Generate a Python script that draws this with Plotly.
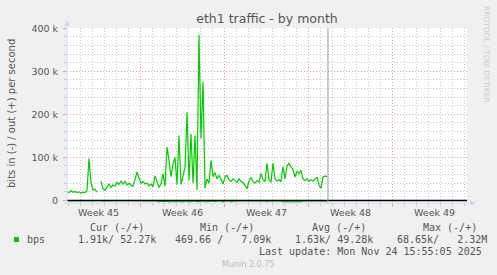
import plotly.graph_objects as go
import pandas as pd

# ---------------- data ----------------
series_start = "2025-11-02 22:00"
series_step = "4h"
# out (+) bits per second, in thousands (None = no data)
out_k = [21, 18, 23, 19, 21, 18, 20, 17, 19, 18,
         22, 97, 42, 24, 26, 19, None, 45, 27, 24,
         30, 38, 30, 36, 33, 42, 37, 45, 38, 44,
         36, 40, 36, 33, 48, 66, 52, 40, 44, 38,
         40, 34, 38, 32, 57, 44, 30, 38, 62, 33,
         124, 93, 55, 85, 100, 37, 151, 37, 60, 76,
         205, 47, 155, 40, 151, 25, 384, 144, 275, 28,
         50, 40, 93, 55, 65, 50, 58, 50, 38, 55,
         58, 48, 44, 50, 46, 42, 50, 44, 42, 35,
         27, 45, 53, 44, 40, 46, 42, 62, 48, 44,
         86, 48, 42, 87, 50, 45, 48, 44, 78, 50,
         80, 86, 77, 72, 54, 68, 62, 70, 50, 46,
         50, 44, 48, 45, 50, 54, 35, 28, 54, 57,
         55]
# in (-) bits per second, in thousands (drawn negative)
in_k = [0.7, 0.6, 0.8, 0.7, 0.6, 0.7, 0.8, 0.6, 0.7, 0.6,
        0.9, 1.2, 0.8, 0.7, 0.6, 0.7, None, 0.9, 0.7, 0.8,
        0.7, 0.9, 0.8, 0.7, 0.8, 0.9, 0.7, 0.8, 0.9, 0.8,
        0.7, 0.8, 0.9, 0.7, 0.8, 1.0, 0.9, 0.8, 0.7, 0.9,
        0.8, 0.7, 0.9, 0.8, 1.0, 1.1, 3.2, 1.0, 3.5, 3.0,
        1.2, 3.8, 3.4, 1.1, 3.6, 3.2, 1.0, 3.9, 3.5, 3.1,
        1.2, 3.3, 3.7, 1.1, 1.0, 3.4, 3.0, 1.2, 1.0, 3.6,
        3.2, 1.1, 1.0, 0.9, 3.3, 1.0, 0.9, 1.1, 3.2, 1.0,
        0.9, 1.0, 3.1, 1.0, 0.8, 0.9, 0.8, 0.7, 0.8, 0.9,
        0.8, 0.7, 0.8, 0.9, 0.8, 0.7, 0.8, 0.9, 0.8, 0.7,
        3.2, 0.8, 0.9, 0.8, 0.7, 0.8, 0.9, 0.8, 3.5, 3.6,
        3.4, 3.7, 3.5, 3.3, 3.6, 3.4, 3.5, 3.3, 0.9, 0.8,
        0.7, 0.8, 0.9, 0.8, 0.7, 0.8, 0.9, 0.8, 0.7, 0.8,
        0.9]

x_range = ["2025-11-02 22:00", "2025-12-06 06:00"]
week_starts = ["2025-11-02", "2025-11-09", "2025-11-16", "2025-11-23", "2025-11-30"]
week_labels = ["Week 45", "Week 46", "Week 47", "Week 48", "Week 49"]
ytick_vals = [0, 100000, 200000, 300000, 400000]
ytick_text = ["0", "100 k", "200 k", "300 k", "400 k"]
last_update = "2025-11-24 15:55:05"

title = "eth1 traffic - by month"
ylabel = "bits in (-) / out (+) per second"
legend_name = "bps"
headers = ["Cur (-/+)", "Min (-/+)", "Avg (-/+)", "Max (-/+)"]
stats = ["1.91k/ 52.27k", "469.66 /   7.09k", "1.63k/ 49.28k", "68.65k/   2.32M"]
update_text = "Last update: Mon Nov 24 15:55:05 2025"
footer = "Munin 2.0.75"
side_text = "RRDTOOL / TOBI OETIKER"

# ---------------- layout geometry ----------------
W, H = 497, 275
L, R, T, B = 67, 30, 28, 72
PW, PH = W - L - R, H - T - B


def px(x):
    return (x - L) / PW


def py(y):
    return (H - B - y) / PH


times = pd.date_range(series_start, periods=len(out_k), freq=series_step)
out_vals = [None if v is None else v * 1000 for v in out_k]
in_vals = [None if v is None else -v * 1000 for v in in_k]

GREEN = "#00CC00"
FONT = "#555555"
MGRID = "#EE9A9A"
GRID = "#C8C8C8"
AXIS = "#CFD6F8"
DOTS = "1px,2px"

fig = go.Figure()
fig.add_trace(go.Scatter(x=times, y=in_vals, mode="lines",
                         line=dict(color=GREEN, width=1.2),
                         connectgaps=False, showlegend=False, hoverinfo="skip"))
fig.add_trace(go.Scatter(x=times, y=out_vals, mode="lines",
                         line=dict(color=GREEN, width=1.2),
                         connectgaps=False, showlegend=False, hoverinfo="skip"))

shapes = []
# zero line
shapes.append(dict(type="line", xref="paper", yref="y", x0=0, x1=1, y0=0, y1=0,
                   line=dict(color="#000000", width=1.5), layer="above"))
# now marker
shapes.append(dict(type="line", xref="x", yref="paper", x0=last_update, x1=last_update,
                   y0=0, y1=1, line=dict(color="#999999", width=1), layer="above"))
# axis lines + arrows
shapes.append(dict(type="line", xref="paper", yref="paper", x0=px(67), x1=px(67),
                   y0=py(203), y1=py(23), line=dict(color=AXIS, width=1)))
shapes.append(dict(type="path", xref="paper", yref="paper",
                   path=f"M {px(64)},{py(26)} L {px(70)},{py(26)} L {px(67)},{py(20)} Z",
                   fillcolor=AXIS, line=dict(width=0)))
shapes.append(dict(type="line", xref="paper", yref="paper", x0=px(64), x1=px(471),
                   y0=py(203), y1=py(203), line=dict(color=AXIS, width=1)))
shapes.append(dict(type="path", xref="paper", yref="paper",
                   path=f"M {px(470)},{py(200)} L {px(470)},{py(206)} L {px(476)},{py(203)} Z",
                   fillcolor=AXIS, line=dict(width=0)))
# legend square
shapes.append(dict(type="rect", xref="paper", yref="paper", x0=px(14), x1=px(19),
                   y0=py(242), y1=py(237), fillcolor=GREEN, line=dict(width=0)))

ann = []
mono = dict(family="DejaVu Sans Mono", size=10, color=FONT)
for ws, lab in zip(week_starts, week_labels):
    mid = pd.Timestamp(ws) + pd.Timedelta(hours=84)
    ann.append(dict(x=mid, y=py(212.5), xref="x", yref="paper", text=lab, showarrow=False,
                    xanchor="center", yanchor="middle",
                    font=dict(family="DejaVu Sans", size=9.5, color=FONT)))
ann.append(dict(x=px(11), y=py(114), xref="paper", yref="paper", text=ylabel, textangle=-90,
                showarrow=False, xanchor="center", yanchor="middle",
                font=dict(family="DejaVu Sans", size=10, color=FONT)))
ann.append(dict(x=px(487), y=py(54), xref="paper", yref="paper", text=side_text, textangle=90,
                showarrow=False, xanchor="center", yanchor="middle",
                font=dict(family="DejaVu Sans", size=7.5, color="#CCCCCC")))
for hx, h in zip([90, 200, 311.7, 422.7], headers):
    ann.append(dict(x=px(hx - 2), y=py(227.7), xref="paper", yref="paper",
                    text=h.replace(" ", "\u00a0"), showarrow=False,
                    xanchor="left", yanchor="middle", font=mono))
ann.append(dict(x=px(26.7 - 2), y=py(239.3), xref="paper", yref="paper", text=legend_name,
                showarrow=False, xanchor="left", yanchor="middle", font=mono))
for sx, s in zip([78.3, 175, 295, 397.3], stats):
    ann.append(dict(x=px(sx - 2), y=py(239.3), xref="paper", yref="paper",
                    text=s.replace(" ", "\u00a0"), showarrow=False,
                    xanchor="left", yanchor="middle", font=mono))
ann.append(dict(x=px(484), y=py(251.7), xref="paper", yref="paper",
                text=update_text.replace(" ", "\u00a0"), showarrow=False,
                xanchor="right", yanchor="middle", font=mono))
ann.append(dict(x=px(248), y=py(264), xref="paper", yref="paper", text=footer,
                showarrow=False, xanchor="center", yanchor="middle",
                font=dict(family="DejaVu Sans", size=8, color="#BBBBBB")))

fig.update_layout(
    width=W, height=H,
    margin=dict(l=L, r=R, t=T, b=B, pad=0),
    paper_bgcolor="#F0F0F0", plot_bgcolor="#FFFFFF",
    showlegend=False,
    title=dict(text=title, x=0.5, xref="paper", xanchor="center",
               y=1 - 18.5 / H, yref="container", yanchor="middle",
               font=dict(family="DejaVu Sans", size=12.5, color=FONT)),
    xaxis=dict(type="date", range=x_range, tickvals=week_starts, showticklabels=False,
               showgrid=True, gridcolor=MGRID, griddash=DOTS, gridwidth=1,
               ticks="outside", ticklen=3, tickcolor=MGRID,
               showline=False, zeroline=False,
               minor=dict(tick0="2025-11-02", dtick=86400000, showgrid=True,
                          gridcolor=GRID, griddash=DOTS, gridwidth=1,
                          ticks="outside", ticklen=2, tickcolor=GRID)),
    yaxis=dict(range=[-6000, 400500], tickvals=ytick_vals, ticktext=ytick_text,
               showgrid=True, gridcolor=MGRID, griddash=DOTS, gridwidth=1,
               ticks="outside", ticklen=3, tickcolor=MGRID, ticklabelstandoff=3,
               showline=False, zeroline=False,
               tickfont=dict(family="DejaVu Sans", size=9.5, color=FONT),
               minor=dict(tick0=0, dtick=20000, showgrid=True,
                          gridcolor=GRID, griddash=DOTS, gridwidth=1,
                          ticks="outside", ticklen=2, tickcolor=GRID)),
    shapes=shapes,
    annotations=ann,
)

fig.write_html("out.html")
